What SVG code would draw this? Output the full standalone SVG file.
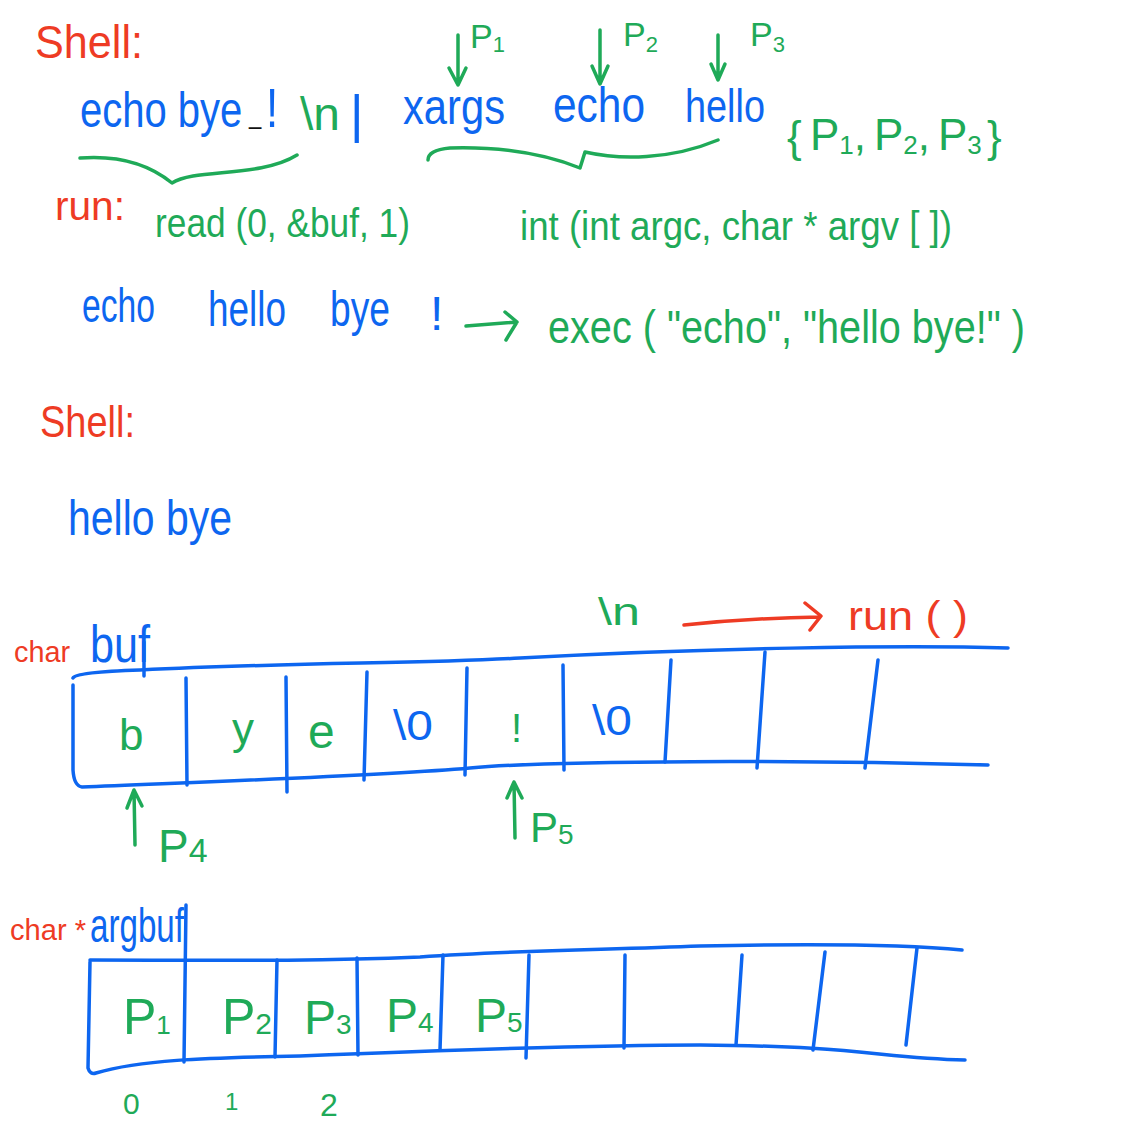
<svg xmlns="http://www.w3.org/2000/svg" width="1135" height="1123" viewBox="0 0 1135 1123">
  <defs>
    <style>
      text { font-family: "Liberation Sans Narrow", "Liberation Sans", sans-serif; }
      .r { fill: #ee3b24; }
      .b { fill: #0d66f0; }
      .g { fill: #1faa58; }
      .k { fill: #111111; }
      .sr { stroke: #ee3b24; }
      .sb { stroke: #0d66f0; }
      .sg { stroke: #1faa58; }
      path, line { fill: none; stroke-width: 3.5; stroke-linecap: round; stroke-linejoin: round; }
    </style>
  </defs>
  <rect width="1135" height="1123" fill="#ffffff"/>

  <!-- first shell line -->
  <g id="shell-title-1">
    <text class="r" x="35" y="58" font-size="46" textLength="108" lengthAdjust="spacingAndGlyphs">Shell:</text>
  </g>
  <g id="command-line">
    <!-- the first command is stretched upward to keep its tall, narrow letters -->
    <g transform="translate(0,127) scale(1,1.25) translate(0,-127)">
      <text class="b" x="80" y="127" font-size="40">echo bye</text>
      <text class="k" x="249" y="124" font-size="22">_</text>
      <text class="b" x="266" y="127" font-size="44">!</text>
    </g>
    <text class="g" x="300" y="130" font-size="46" textLength="40" lengthAdjust="spacingAndGlyphs">\n</text>
    <text class="b" x="350" y="132" font-size="52">|</text>
    <text class="b" x="403" y="124" font-size="50" textLength="102" lengthAdjust="spacingAndGlyphs">xargs</text>
    <text class="b" x="553" y="122" font-size="50" textLength="92" lengthAdjust="spacingAndGlyphs">echo</text>
    <text class="b" x="685" y="122" font-size="46" textLength="80" lengthAdjust="spacingAndGlyphs">hello</text>
  </g>
  <g id="pointer-set">
    <text class="g" x="787" y="152" font-size="44">{</text>
    <text class="g" x="810" y="150" font-size="44">P<tspan font-size="26" dy="4">1</tspan><tspan dy="-4">,</tspan></text>
    <text class="g" x="874" y="150" font-size="44">P<tspan font-size="26" dy="4">2</tspan><tspan dy="-4">,</tspan></text>
    <text class="g" x="938" y="150" font-size="44">P<tspan font-size="26" dy="4">3</tspan></text>
    <text class="g" x="987" y="152" font-size="44">}</text>
  </g>
  <g id="pointer-labels-top">
    <text class="g" x="470" y="48" font-size="34">P<tspan font-size="22" dy="4">1</tspan></text>
    <text class="g" x="623" y="46" font-size="34">P<tspan font-size="22" dy="6">2</tspan></text>
    <text class="g" x="750" y="46" font-size="34">P<tspan font-size="22" dy="6">3</tspan></text>
  </g>

  <!-- second run line -->
  <g id="run-line">
    <text class="r" x="55" y="220" font-size="40" textLength="70" lengthAdjust="spacingAndGlyphs">run:</text>
    <text class="g" x="155" y="237" font-size="40" textLength="255" lengthAdjust="spacingAndGlyphs">read (0, &amp;buf, 1)</text>
    <text class="g" x="520" y="240" font-size="40" textLength="432" lengthAdjust="spacingAndGlyphs">int (int argc, char * argv [ ])</text>
  </g>

  <g id="expanded-line">
    <text class="b" x="82" y="322" font-size="48" textLength="73" lengthAdjust="spacingAndGlyphs">echo</text>
    <text class="b" x="208" y="326" font-size="50" textLength="78" lengthAdjust="spacingAndGlyphs">hello</text>
    <text class="b" x="330" y="326" font-size="50" textLength="60" lengthAdjust="spacingAndGlyphs">bye</text>
    <text class="b" x="430" y="330" font-size="48">!</text>
    <text class="g" x="548" y="343" font-size="46" textLength="477" lengthAdjust="spacingAndGlyphs">exec ( "echo", "hello bye!" )</text>
  </g>

  <!-- second shell block -->
  <g id="shell-title-2">
    <text class="r" x="40" y="437" font-size="44" textLength="95" lengthAdjust="spacingAndGlyphs">Shell:</text>
  </g>
  <g id="shell-output">
    <text class="b" x="68" y="535" font-size="50" textLength="164" lengthAdjust="spacingAndGlyphs">hello bye</text>
  </g>

  <!-- char buf array -->
  <g id="buf-label">
    <text class="r" x="14" y="662" font-size="30" textLength="56" lengthAdjust="spacingAndGlyphs">char</text>
    <text class="b" x="90" y="662" font-size="52" textLength="60" lengthAdjust="spacingAndGlyphs">buf</text>
    <text class="g" x="598" y="625" font-size="38" textLength="42" lengthAdjust="spacingAndGlyphs">\n</text>
    <text class="r" x="848" y="630" font-size="40" textLength="120" lengthAdjust="spacingAndGlyphs">run ( )</text>
  </g>
  <g id="buf-array">
    <path class="sb" d="M73,678 Q76,672 140,670 C300,662 420,664 520,658 C700,648 900,645 1008,648"/>
    <path class="sb" d="M73,685 L73,770 Q74,786 82,787 C200,782 380,776 470,768 C560,760 800,760 988,765"/>
    <line class="sb" x1="144" y1="642" x2="144" y2="676"/>
    <line class="sb" x1="186" y1="678" x2="187" y2="785"/>
    <line class="sb" x1="286" y1="677" x2="287" y2="792"/>
    <line class="sb" x1="367" y1="672" x2="364" y2="780"/>
    <line class="sb" x1="467" y1="668" x2="465" y2="775"/>
    <line class="sb" x1="563" y1="665" x2="564" y2="770"/>
    <line class="sb" x1="671" y1="660" x2="665" y2="762"/>
    <line class="sb" x1="765" y1="652" x2="757" y2="768"/>
    <line class="sb" x1="878" y1="660" x2="865" y2="768"/>
    <text class="g" x="119" y="750" font-size="44">b</text>
    <text class="g" x="232" y="744" font-size="44">y</text>
    <text class="g" x="308" y="748" font-size="48">e</text>
    <text class="b" x="393" y="740" font-size="42" textLength="40" lengthAdjust="spacingAndGlyphs">\0</text>
    <text class="g" x="511" y="742" font-size="40">!</text>
    <text class="b" x="592" y="735" font-size="42" textLength="40" lengthAdjust="spacingAndGlyphs">\0</text>
  </g>
  <g id="buf-pointers">
    <text class="g" x="158" y="862" font-size="46">P<tspan font-size="34">4</tspan></text>
    <text class="g" x="530" y="842" font-size="42">P<tspan font-size="28" dy="2">5</tspan></text>
  </g>

  <!-- char * argbuf array -->
  <g id="argbuf-label">
    <text class="r" x="10" y="940" font-size="30" textLength="76" lengthAdjust="spacingAndGlyphs">char *</text>
    <text class="b" x="90" y="942" font-size="48" textLength="94" lengthAdjust="spacingAndGlyphs">argbuf</text>
  </g>
  <g id="argbuf-array">
    <path class="sb" d="M90,960 C200,960 300,962 420,957 C520,950 600,950 700,946 C800,944 900,944 962,950"/>
    <path class="sb" d="M90,962 L88,1068 Q90,1075 96,1073 C140,1060 200,1058 300,1056 C450,1050 600,1045 700,1045 C860,1046 880,1058 965,1060"/>
    <line class="sb" x1="186" y1="905" x2="184" y2="1062"/>
    <line class="sb" x1="277" y1="960" x2="275" y2="1057"/>
    <line class="sb" x1="357" y1="958" x2="358" y2="1055"/>
    <line class="sb" x1="443" y1="955" x2="440" y2="1050"/>
    <line class="sb" x1="529" y1="955" x2="526" y2="1058"/>
    <line class="sb" x1="625" y1="955" x2="624" y2="1048"/>
    <line class="sb" x1="742" y1="955" x2="736" y2="1045"/>
    <line class="sb" x1="825" y1="952" x2="813" y2="1050"/>
    <line class="sb" x1="917" y1="948" x2="906" y2="1045"/>
    <text class="g" x="123" y="1034" font-size="50">P<tspan font-size="26">1</tspan></text>
    <text class="g" x="222" y="1034" font-size="50">P<tspan font-size="30">2</tspan></text>
    <text class="g" x="304" y="1034" font-size="48">P<tspan font-size="28">3</tspan></text>
    <text class="g" x="386" y="1032" font-size="48">P<tspan font-size="28">4</tspan></text>
    <text class="g" x="475" y="1032" font-size="48">P<tspan font-size="28">5</tspan></text>
    <text class="g" x="123" y="1114" font-size="30">0</text>
    <text class="g" x="225" y="1110" font-size="24">1</text>
    <text class="g" x="320" y="1116" font-size="32">2</text>
  </g>

  <!-- connectors: braces and arrows -->
  <g id="connectors">
    <path class="sg" d="M80,158 C120,155 150,165 172,183 C195,168 260,178 297,155"/>
    <path class="sg" d="M428,160 Q428,150 450,148 C520,146 560,160 580,168 L585,152 C620,160 670,160 718,140"/>
    <path class="sg" d="M458,35 L458,85 M449,68 L458,85 L466,68"/>
    <path class="sg" d="M600,30 L600,84 M592,66 L600,84 L608,66"/>
    <path class="sg" d="M718,35 L718,80 M711,64 L718,80 L725,64"/>
    <path class="sg" d="M466,326 L517,322 M505,312 L517,322 L506,340"/>
    <path class="sr" d="M684,625 Q750,618 820,617 M805,603 L821,616 L810,630"/>
    <path class="sg" d="M135,845 L134,790 M127,808 L134,790 L142,806"/>
    <path class="sg" d="M515,838 L514,782 M507,798 L514,782 L522,798"/>
  </g>
</svg>
